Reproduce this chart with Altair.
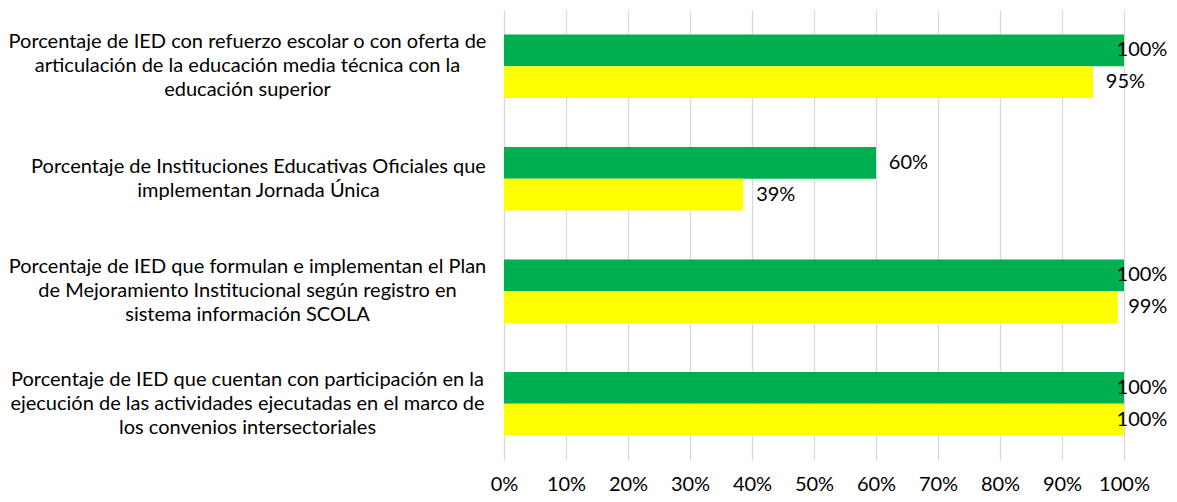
import altair as alt
import pandas as pd

FONT = "Lato"

categories = [
    "Porcentaje de IED con refuerzo escolar o con oferta de|articulación de la educación media técnica con la|educación superior",
    "Porcentaje de Instituciones Educativas Oficiales que|implementan Jornada Única",
    "Porcentaje de IED que formulan e implementan el Plan|de Mejoramiento Institucional según registro en|sistema información SCOLA",
    "Porcentaje de IED que cuentan con participación en la|ejecución de las actividades ejecutadas en el marco de|los convenios intersectoriales",
]
series = ["Meta", "Avance"]
meta_values = [1.00, 0.60, 1.00, 1.00]
avance_values = [0.95, 0.386, 0.99, 1.00]
x_ticks = [0, 0.1, 0.2, 0.3, 0.4, 0.5, 0.6, 0.7, 0.8, 0.9, 1.0]
colors = ["#00B050", "#FFFF00"]

rows = []
for c, m, a in zip(categories, meta_values, avance_values):
    rows.append({"cat": c, "serie": series[0], "v": m})
    rows.append({"cat": c, "serie": series[1], "v": a})
df = pd.DataFrame(rows)

three_lines = "length(split(datum.label, '|')) == 3"
second_cat = "indexof(datum.label, 'Jornada') >= 0"

base = alt.Chart(df).encode(
    y=alt.Y(
        "cat:N",
        sort=categories,
        scale=alt.Scale(paddingInner=0.434, paddingOuter=0.217),
        axis=alt.Axis(
            title=None,
            labelExpr="split(datum.label, '|')",
            labelAlign="center",
            labelBaseline="middle",
            labelPadding={"condition": {"test": second_cat, "value": 246}, "value": 257},
            labelOffset={"condition": {"test": three_lines, "value": -24}, "value": -12},
            labelLimit=0,
            labelFont=FONT,
            labelFontSize=20,
            labelLineHeight=24,
            labelColor="#000000",
            domain=False,
            ticks=False,
        ),
    ),
    yOffset=alt.YOffset("serie:N", sort=series),
)

bars = base.mark_bar().encode(
    x=alt.X(
        "v:Q",
        scale=alt.Scale(domain=[0, 1], nice=False),
        axis=alt.Axis(
            title=None,
            values=x_ticks,
            format=".0%",
            grid=True,
            gridColor="#D9D9D9",
            gridWidth=1.3,
            domain=False,
            ticks=False,
            labelOverlap=False,
            labelFlush=False,
            labelPadding=14,
            labelFont=FONT,
            labelFontSize=20,
            labelColor="#000000",
        ),
    ),
    color=alt.Color("serie:N", scale=alt.Scale(domain=series, range=colors), legend=None),
)

labels = base.mark_text(
    align="right", baseline="middle", font=FONT, fontSize=20, color="#000000"
).transform_calculate(
    lbl="format(datum.v, '.0%')"
).transform_calculate(
    rx="min(datum.v + 0.026 + (length(datum.lbl) > 3 ? 0.074 : 0.058), 1.07)"
).encode(
    x=alt.X("rx:Q"),
    text=alt.Text("lbl:N"),
)

chart = (
    alt.layer(bars, labels)
    .properties(
        width=620,
        height=450,
        autosize=alt.AutoSizeParams(type="none"),
        padding={"left": 496, "top": 2, "right": 45, "bottom": 34},
    )
    .configure_view(stroke=None)
)

chart.save("out.html", embed_options={"renderer": "svg", "actions": False})
